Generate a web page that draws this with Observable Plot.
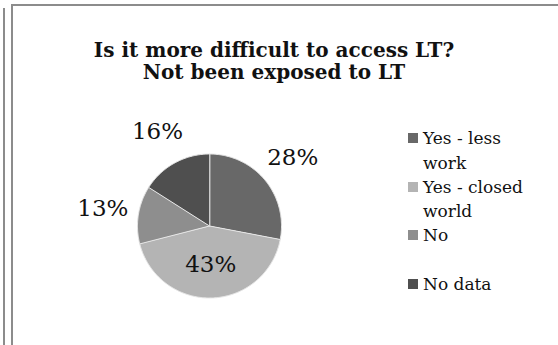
<!DOCTYPE html>
<html>
<head>
<meta charset="utf-8">
<script src="https://cdn.jsdelivr.net/npm/d3@7"></script>
<script src="https://cdn.jsdelivr.net/npm/@observablehq/plot@0.6"></script>
<style>
  html, body { margin: 0; padding: 0; background: #fff; }
  #root { position: relative; width: 558px; height: 345px; overflow: hidden; background: #fff; }
  #leftline { position: absolute; left: 3px; top: 8px; width: 2px; height: 340px; background: #8c8c8c; }
  #frame { position: absolute; left: 11px; top: 4px; width: 600px; height: 400px; border-left: 2px solid #8c8c8c; border-top: 2px solid #8c8c8c; }
  #title { position: absolute; left: 0px; width: 548px; top: 39px; text-align: center; font-family: "DejaVu Serif", serif; font-weight: bold; font-size: 20px; line-height: 22px; color: #111; }
  #chart { position: absolute; left: 0; top: 0; }
  .item { position: absolute; left: 408px; width: 140px; font-family: "DejaVu Serif", serif; font-size: 17px; line-height: 24.5px; color: #111; }
  .item .sw { position: absolute; left: 0; top: 7px; width: 10px; height: 10px; }
  .item .tx { position: absolute; left: 15px; width: 118px; }
</style>
</head>
<body>
<div id="root">
  <div id="leftline"></div>
  <div id="frame"></div>
  <div id="chart"></div>
  <div id="title">Is it more difficult to access LT?<br>Not been exposed to LT</div>
  <div id="legend"></div>
</div>
<script>
const categories = ["Yes - less work", "Yes - closed world", "No", "No data"];
const values = [28, 43, 13, 16];
const colors = ["#686868", "#b4b4b4", "#8e8e8e", "#4f4f4f"];

const total = d3.sum(values);
const slices = [];
let acc = 0;
categories.forEach((c, i) => {
  const a0 = acc / total * 2 * Math.PI;
  acc += values[i];
  const a1 = acc / total * 2 * Math.PI;
  slices.push({category: c, value: values[i], a0, a1});
});

// polygon outline of each slice (centre + arc), in unit-circle coordinates
const outline = [];
for (const s of slices) {
  outline.push({category: s.category, x: 0, y: 0});
  const n = Math.max(2, Math.ceil((s.a1 - s.a0) / (Math.PI / 180)));
  for (let k = 0; k <= n; ++k) {
    const a = s.a0 + (s.a1 - s.a0) * k / n;
    outline.push({category: s.category, x: Math.sin(a), y: Math.cos(a)});
  }
}

const labels = slices.map(s => {
  const m = (s.a0 + s.a1) / 2;
  const r = s.value / total > 0.3 ? 0.53 : 1.5;
  return {text: Math.round(s.value / total * 100) + "%", x: r * Math.sin(m), y: r * Math.cos(m)};
});

const plot = Plot.plot({
  width: 558,
  height: 345,
  marginLeft: 137,
  marginRight: 277,
  marginTop: 153.5,
  marginBottom: 47.5,
  x: {domain: [-1, 1], axis: null},
  y: {domain: [-1, 1], axis: null},
  color: {domain: categories, range: colors},
  style: {background: "transparent", overflow: "visible"},
  marks: [
    Plot.line(outline, {x: "x", y: "y", z: "category", fill: "category", stroke: "#e6e6e6", strokeWidth: 1, curve: "linear-closed"}),
    Plot.text(labels, {x: "x", y: "y", text: "text", fontSize: 23, fontFamily: "DejaVu Serif, serif", fill: "#111"})
  ]
});
document.getElementById("chart").appendChild(plot);

const legend = document.getElementById("legend");
categories.forEach((c, i) => {
  const it = document.createElement("div");
  it.className = "item";
  it.style.top = (126 + i * 48.7) + "px";
  const sw = document.createElement("div");
  sw.className = "sw";
  sw.style.background = colors[i];
  const tx = document.createElement("div");
  tx.className = "tx";
  tx.textContent = c;
  it.appendChild(sw);
  it.appendChild(tx);
  legend.appendChild(it);
});
</script>
</body>
</html>
